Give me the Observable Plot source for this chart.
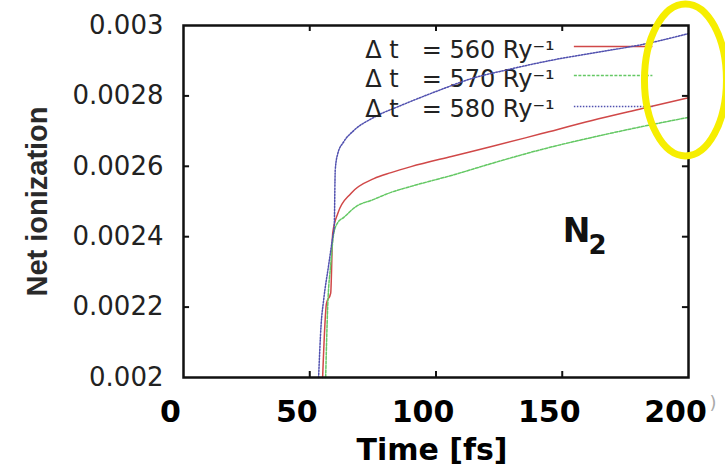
<!DOCTYPE html>
<html><head><meta charset="utf-8">
<script src="https://cdn.jsdelivr.net/npm/d3@7"></script>
<script src="https://cdn.jsdelivr.net/npm/@observablehq/plot@0.6"></script>
<style>html,body{margin:0;padding:0;background:#fff;}</style>
</head><body><div id="chart"></div>
<script>
// ---- data ----
const seriesLabels = ["Δ t\u00a0\u00a0\u00a0= 560 Ry⁻¹", "Δ t\u00a0\u00a0\u00a0= 570 Ry⁻¹", "Δ t\u00a0\u00a0\u00a0= 580 Ry⁻¹"];
const t560 = [55.1, 56.0, 56.6, 58.3, 59.1, 61.1, 66.3, 75.4, 82.2, 90.1, 106.1, 122, 141.9, 161.8, 181.7, 200];
const v560 = [0.00200, 0.00215, 0.00221, 0.00224, 0.00241, 0.002466, 0.002523, 0.002565, 0.002582, 0.002599, 0.002628, 0.002656, 0.002693, 0.00273, 0.002764, 0.002795];
const t570 = [56.3, 57.1, 58.3, 59.5, 61.1, 63.5, 68, 75.4, 82.2, 90.1, 106.1, 122, 141.9, 161.8, 181.7, 200];
const v570 = [0.00200, 0.00220, 0.00232, 0.002409, 0.00244, 0.002455, 0.002484, 0.002506, 0.002526, 0.002543, 0.002574, 0.002608, 0.002648, 0.002682, 0.002713, 0.002739];
const t580 = [53.5, 54.5, 55.5, 57.5, 59.1, 59.7, 60.1, 61.1, 63.5, 67.5, 75.4, 86.2, 100.9, 114, 128.7, 147, 165.8, 181.7, 200];
const v580 = [0.0020, 0.00215, 0.00222, 0.00232, 0.0024, 0.00243, 0.00259, 0.002636, 0.00267, 0.002702, 0.002739, 0.002773, 0.002815, 0.002849, 0.002875, 0.002903, 0.002926, 0.002946, 0.002977];
const xTicks = [0, 50, 100, 150, 200];
const xTickLabels = ["0", "50", "100", "150", "200"];
const yTicks = [0.002, 0.0022, 0.0024, 0.0026, 0.0028, 0.003];
const yTickLabels = ["0.002", "0.0022", "0.0024", "0.0026", "0.0028", "0.003"];

// ---- build table ----
const seriesT = [t560, t570, t580];
const seriesV = [v560, v570, v580];
const colors = ["rgb(208,72,72)", "rgb(100,200,100)", "rgb(80,80,175)"];
const dashes = [null, "3,1.5", "1.5,1.5"];

// legend layout (data units)
const legText = {x: 147, y: [0.002929, 0.002847, 0.002761]};
const legLine = {x1: 154.6, x2: 185.7, y: [0.00294, 0.002858, 0.00277]};
// inward tick length (data units, ~6px)
const tickLenX = 2.4, tickLenY = 0.000017;

const marks = [];
seriesT.forEach((ts, i) => {
  const rows = ts.map((t, j) => ({t, v: seriesV[i][j]}));
  marks.push(Plot.line(rows, {x: "t", y: "v", curve: "monotone-x", stroke: colors[i], strokeWidth: 1.5, strokeDasharray: dashes[i]}));
  marks.push(Plot.text([seriesLabels[i]], {x: legText.x, y: legText.y[i], text: d => d, textAnchor: "end", fontSize: 24, fill: "#222"}));
  marks.push(Plot.link([0], {x1: legLine.x1, x2: legLine.x2, y1: legLine.y[i], y2: legLine.y[i], stroke: colors[i], strokeWidth: 1.5, strokeDasharray: dashes[i]}));
});

const innerY = yTicks.slice(1, -1), innerX = xTicks.slice(1, -1);

const chart = Plot.plot({
  width: 725, height: 473,
  marginLeft: 183, marginRight: 37, marginTop: 25, marginBottom: 96,
  style: {background: "white", fontFamily: "DejaVu Sans", overflow: "visible"},
  x: {domain: [0, 200]},
  y: {domain: [0.002, 0.003]},
  marks: [
    ...marks,
    Plot.ruleY(innerY, {y: d => d, x1: 0, x2: tickLenX, stroke: "#111", strokeWidth: 2}),
    Plot.ruleY(innerY, {y: d => d, x1: 200 - tickLenX, x2: 200, stroke: "#111", strokeWidth: 2}),
    Plot.ruleX(innerX, {x: d => d, y1: 0.002, y2: 0.002 + tickLenY, stroke: "#111", strokeWidth: 2}),
    Plot.ruleX(innerX, {x: d => d, y1: 0.003 - tickLenY, y2: 0.003, stroke: "#111", strokeWidth: 2}),
    Plot.frame({stroke: "#111", strokeWidth: 2.5}),
    Plot.axisY({anchor: "left", ticks: yTicks, tickSize: 0, tickPadding: 20, label: null, fontSize: 26, fill: "#222",
      tickFormat: d => yTickLabels[yTicks.indexOf(d)]}),
    Plot.axisX({anchor: "bottom", ticks: xTicks, tickSize: 0, tickPadding: 23, dx: -13, label: null, fontSize: 30, fontWeight: "bold", fill: "#000",
      tickFormat: d => xTickLabels[xTicks.indexOf(d)]}),
    Plot.text(["Time [fs]"], {frameAnchor: "bottom", text: d => d, textAnchor: "middle", dx: -4, dy: 82, fontSize: 30, fontWeight: "bold", fill: "#000"}),
    Plot.text(["Net ionization"], {frameAnchor: "left", text: d => d, textAnchor: "middle", dx: -146, rotate: -90, fontSize: 29, fontWeight: "bold", fontFamily: "Liberation Sans", fill: "#2a2a2a"}),
    Plot.text(["N"], {frameAnchor: "right", text: d => d, textAnchor: "middle", dx: -112, dy: 30, fontSize: 33, fontWeight: "bold", fill: "#111"}),
    Plot.text(["2"], {frameAnchor: "right", text: d => d, textAnchor: "middle", dx: -91, dy: 44, fontSize: 26, fontWeight: "bold", fill: "#111"}),
    Plot.text([")"], {frameAnchor: "bottom-right", text: d => d, dx: 28, dy: 31, fontSize: 18, fill: "#aaa"})
  ]
});

// yellow highlight ellipse annotation
const sx = chart.scale("x"), sy = chart.scale("y");
d3.select(chart).append("ellipse")
  .attr("cx", sx.apply(199)).attr("cy", sy.apply(0.002844))
  .attr("rx", 41).attr("ry", 76)
  .attr("fill", "none").attr("stroke", "#f6ee00").attr("stroke-width", 7);

document.getElementById("chart").appendChild(chart);
</script>
</body></html>
